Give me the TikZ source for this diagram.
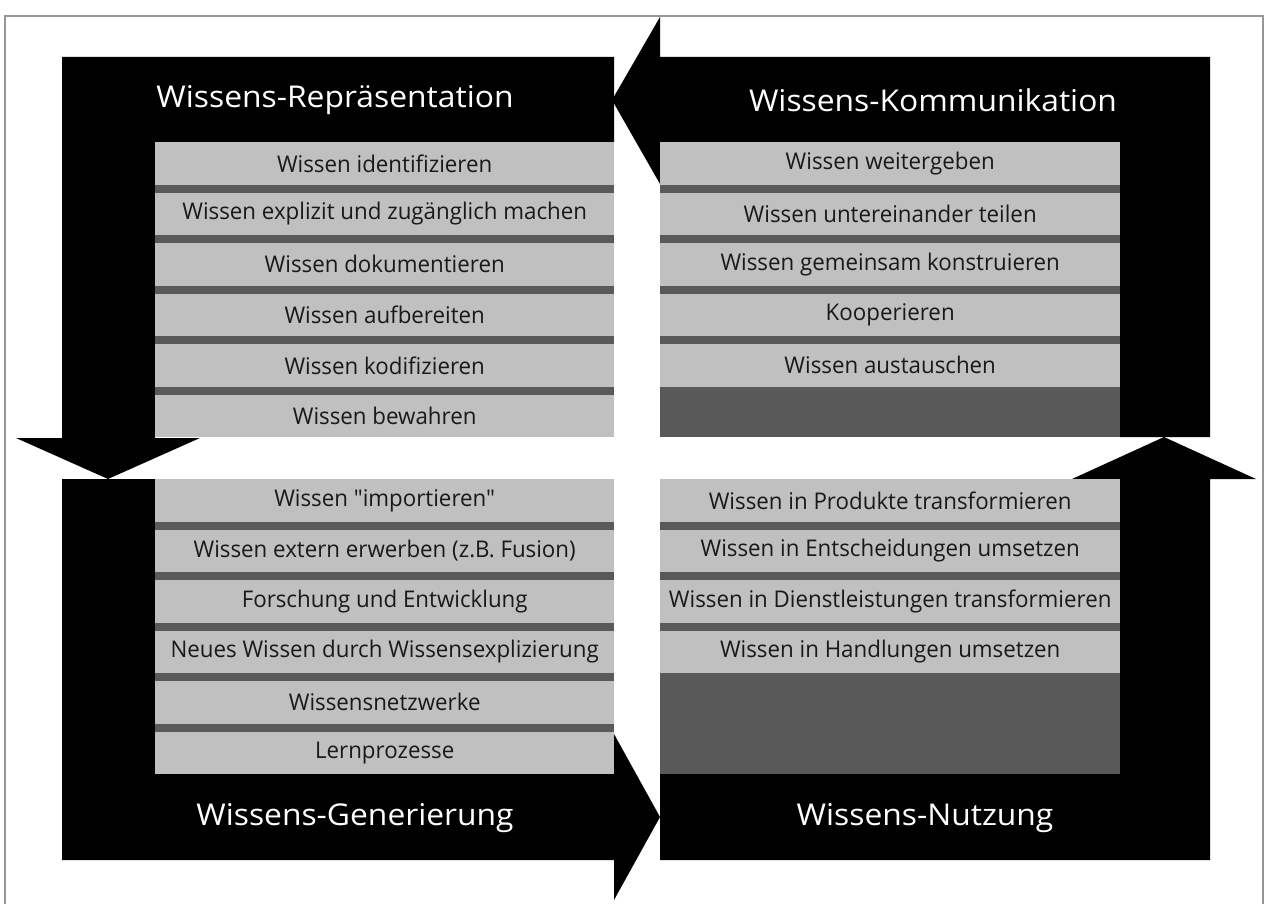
\documentclass[tikz,border=0pt]{standalone}
\usepackage{fontspec}
\setmainfont{Open Sans}
\newfontfamily\rowfont[FakeStretch=0.97]{Open Sans}
\newfontfamily\titlefont[FakeStretch=1.06]{Open Sans}
\usetikzlibrary{matrix,positioning}
\definecolor{lightrow}{RGB}{192,192,192}
\definecolor{darkrow}{RGB}{89,89,89}
\definecolor{framegray}{RGB}{150,150,150}

\begin{document}
\begin{tikzpicture}[x=1pt,y=-1pt,
	block/.style={fill=black},
	rows/.style={matrix of nodes, matrix anchor=north west, inner sep=0pt, row sep=8.2pt,
		nodes={fill=lightrow, minimum width=459pt, minimum height=42.3pt, inner sep=0pt,
			text=black!90, font=\rowfont\fontsize{23}{23}\selectfont}},
	title/.style={text=white, font=\titlefont\fontsize{30}{30}\selectfont}]
	\useasboundingbox (0,0) rectangle (1268,904);
	\draw[framegray, line width=1.5pt] (5,904) -- (5,16) -- (1263,16) -- (1263,904);
	% the four black blocks with their arrows
	\fill[block] (62,57) -- (614,57) -- (614,142) -- (155,142) -- (155,438) -- (200,438)
		-- (108,479) -- (16,438) -- (62,438) -- cycle;
	\fill[block] (660,17) -- (660,57) -- (1210,57) -- (1210,437) -- (1120,437) -- (1120,142)
		-- (660,142) -- (660,184) -- (612,100) -- cycle;
	\fill[block] (660,774) -- (1120,774) -- (1120,479) -- (1072,479) -- (1164,437) -- (1256,479)
		-- (1210,479) -- (1210,860) -- (660,860) -- cycle;
	\fill[block] (62,479) -- (155,479) -- (155,774) -- (614,774) -- (614,734) -- (660,817)
		-- (614,900) -- (614,860) -- (62,860) -- cycle;
	% dark background behind the rows
	\fill[darkrow] (155,142) rectangle (614,437);
	\fill[darkrow] (660,142) rectangle (1120,437);
	\fill[darkrow] (155,479) rectangle (614,774);
	\fill[darkrow] (660,479) rectangle (1120,774);
	\matrix[rows] (rep) at (155,142)
	{
		Wissen identifizieren \\
		Wissen explizit und zugänglich machen \\
		Wissen dokumentieren \\
		Wissen aufbereiten \\
		Wissen kodifizieren \\
		Wissen bewahren \\
	};
	\matrix[rows, nodes={minimum width=460pt}] (kom) at (660,142)
	{
		Wissen weitergeben \\
		Wissen untereinander teilen \\
		Wissen gemeinsam konstruieren \\
		Kooperieren \\
		Wissen austauschen \\
	};
	\matrix[rows] (gen) at (155,479)
	{
		Wissen "importieren" \\
		Wissen extern erwerben (z.B. Fusion) \\
		Forschung und Entwicklung \\
		Neues Wissen durch Wissensexplizierung \\
		Wissensnetzwerke \\
		Lernprozesse \\
	};
	\matrix[rows, nodes={minimum width=460pt}] (nutz) at (660,479)
	{
		Wissen in Produkte transformieren \\
		Wissen in Entscheidungen umsetzen \\
		Wissen in Dienstleistungen transformieren \\
		Wissen in Handlungen umsetzen \\
	};
	\node[title] (repT) at (335,100) {Wissens-Repräsentation};
	\node[title] (komT) at (933,100) {Wissens-Kommunikation};
	\node[title] (genT) at (355,818) {Wissens-Generierung};
	\node[title] (nutzT) at (925,818) {Wissens-Nutzung};
\end{tikzpicture}
\end{document}
